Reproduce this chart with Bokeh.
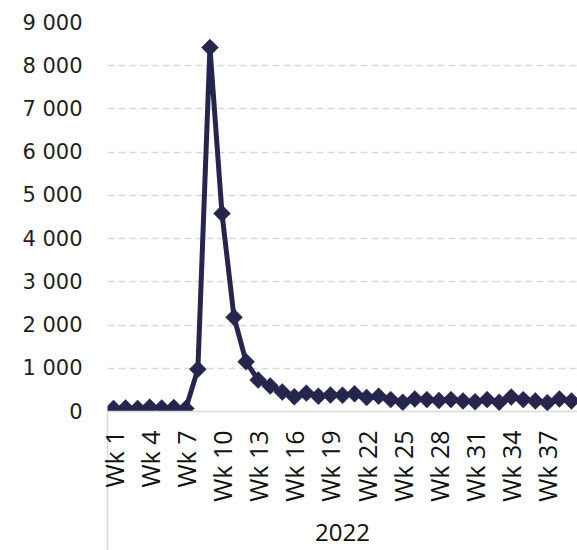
import math
from bokeh.plotting import figure
from bokeh.models import FixedTicker, Range1d
from bokeh.embed import file_html
from bokeh.resources import INLINE

weeks = list(range(1, 40))
values = [70, 80, 70, 100, 80, 90, 70, 980, 8420, 4580,
          2180, 1150, 730, 590, 450, 340, 425, 355, 380, 375,
          410, 325, 355, 275, 215, 290, 275, 255, 275, 245,
          225, 275, 215, 335, 275, 245, 205, 290, 245]
x_tick_pos = [1, 4, 7, 10, 13, 16, 19, 22, 25, 28, 31, 34, 37]
x_tick_labels = ["Wk 1", "Wk 4", "Wk 7", "Wk 10", "Wk 13", "Wk 16", "Wk 19",
                 "Wk 22", "Wk 25", "Wk 28", "Wk 31", "Wk 34", "Wk 37"]
y_tick_pos = [0, 1000, 2000, 3000, 4000, 5000, 6000, 7000, 8000, 9000]
y_tick_labels = ["0", "1 000", "2 000", "3 000", "4 000", "5 000",
                 "6 000", "7 000", "8 000", "9 000"]
group_label = "2022"

NAVY = "#25254E"
GRID = "#d9d9d9"
SEP = 145

p = figure(width=577, height=550, output_backend="svg", toolbar_location=None,
           x_range=Range1d(0.5, 39.5), y_range=Range1d(0, 9000),
           min_border_left=107, min_border_right=0, min_border_top=22,
           min_border_bottom=139)
p.outline_line_color = None
p.background_fill_color = "white"

p.line(weeks, values, line_color=NAVY, line_width=5, line_join="miter")
p.scatter(weeks, values, marker="square", angle=math.pi / 4, size=12,
          fill_color=NAVY, line_color=NAVY, line_width=0.5)

# y axis
ya = p.yaxis[0]
ya.ticker = FixedTicker(ticks=y_tick_pos)
ya.major_label_overrides = {t: l for t, l in zip(y_tick_pos, y_tick_labels)}
ya.axis_line_color = None
ya.major_tick_line_color = None
ya.minor_tick_line_color = None
ya.major_tick_out = 0
ya.major_label_standoff = 25
ya.major_label_text_font = "DejaVu Sans"
ya.major_label_text_font_size = "21px"
ya.major_label_text_color = "#1f1f1f"

# x axis
xa = p.xaxis[0]
xa.ticker = FixedTicker(ticks=x_tick_pos, minor_ticks=[0.5])
xa.major_label_overrides = {t: l for t, l in zip(x_tick_pos, x_tick_labels)}
xa.major_label_orientation = math.pi / 2
xa.major_tick_line_color = None
xa.major_tick_out = 0
xa.major_tick_in = 0
xa.minor_tick_out = SEP
xa.minor_tick_in = 0
xa.minor_tick_line_color = GRID
xa.minor_tick_line_width = 1.5
xa.axis_line_color = GRID
xa.axis_line_width = 1.5
xa.major_label_standoff = 19 - SEP
xa.major_label_text_font = "Open Sans"
xa.major_label_text_font_size = "25px"
xa.major_label_text_color = "#111111"
xa.axis_label = group_label
xa.axis_label_text_font = "Open Sans"
xa.axis_label_text_font_size = "24px"
xa.axis_label_text_font_style = "normal"
xa.axis_label_text_color = "#111111"
xa.axis_label_standoff = 19

p.xgrid.grid_line_color = None
p.ygrid.ticker = FixedTicker(ticks=y_tick_pos[1:])
p.ygrid.grid_line_color = GRID
p.ygrid.grid_line_width = 1.5
p.ygrid.grid_line_dash = "7 4"

open("out.html", "w").write(file_html(p, INLINE))
